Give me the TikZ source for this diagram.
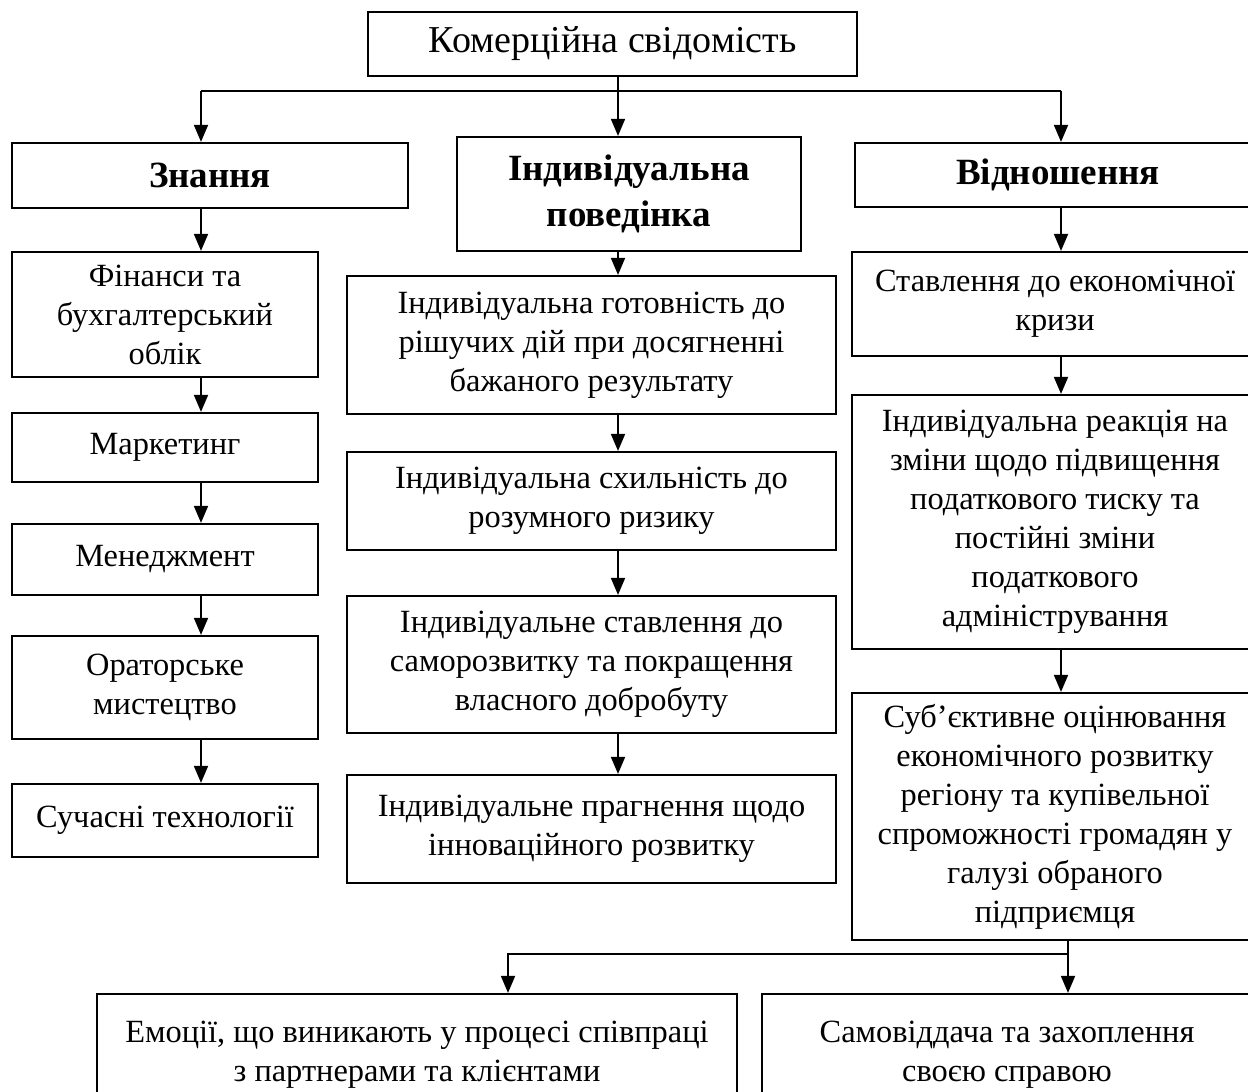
\documentclass[tikz,border=0pt]{standalone}
\usepackage{fontspec}
\setmainfont{Liberation Serif}
\usetikzlibrary{arrows.meta}
\begin{document}
\begin{tikzpicture}[x=1pt,y=-1pt,
  box/.style={draw, line width=2.2pt, align=center, inner sep=0pt, font=\fontsize{32.4}{39}\selectfont},
  head/.style={box, font=\fontsize{37}{46}\selectfont\bfseries},
  titlebox/.style={box, font=\fontsize{38}{44}\selectfont},
  ln/.style={line width=1.8pt},
  arr/.style={line width=1.8pt, -{Triangle[length=17pt,width=14pt]}}]
\useasboundingbox (0,0) rectangle (1248,1092);
\clip (0,0) rectangle (1248,1092);
% top
\node[titlebox, minimum width=489pt, minimum height=64pt] (top) at (612.5,44) {Комерційна свідомість};
% headers
\node[head, minimum width=396pt, minimum height=65pt] (znan) at (210,175.5) {Знання};
\node[head, minimum width=344pt, minimum height=114pt] (indiv) at (629,194) {Індивідуальна\\поведінка};
\node[head, minimum width=406pt, minimum height=64pt] (vidn) at (1058,175) {Відношення};
% left column
\node[box, minimum width=306pt, minimum height=125pt] (fin) at (165,314.5) {Фінанси та\\бухгалтерський\\облік};
\node[box, minimum width=306pt, minimum height=69pt] (mark) at (165,447.5) {Маркетинг};
\node[box, minimum width=306pt, minimum height=71pt] (men) at (165,559.5) {Менеджмент};
\node[box, minimum width=306pt, minimum height=103pt] (orat) at (165,687.5) {Ораторське\\мистецтво};
\node[box, minimum width=306pt, minimum height=73pt] (such) at (165,820.5) {Сучасні технології};
% middle column
\node[box, minimum width=489pt, minimum height=138pt] (gotov) at (591.5,345) {Індивідуальна готовність до\\рішучих дій при досягненні\\бажаного результату};
\node[box, minimum width=489pt, minimum height=98pt] (skhyl) at (591.5,501) {Індивідуальна схильність до\\розумного ризику};
\node[box, minimum width=489pt, minimum height=137pt] (samo) at (591.5,664.5) {Індивідуальне ставлення до\\саморозвитку та покращення\\власного добробуту};
\node[box, minimum width=489pt, minimum height=108pt] (pragn) at (591.5,829) {Індивідуальне прагнення щодо\\інноваційного розвитку};
% right column
\node[box, minimum width=406pt, minimum height=104pt] (kryz) at (1055,304) {Ставлення до економічної\\кризи};
\node[box, minimum width=406pt, minimum height=254pt] (reak) at (1055,522) {Індивідуальна реакція на\\зміни щодо підвищення\\податкового тиску та\\постійні зміни\\податкового\\адміністрування};
\node[box, minimum width=406pt, minimum height=247pt] (subj) at (1055,816.5) {Суб’єктивне оцінювання\\економічного розвитку\\регіону та купівельної\\спроможності громадян у\\галузі обраного\\підприємця};
% bottom
\node[box, minimum width=640pt, minimum height=122pt] (emoc) at (417,1055) {Емоції, що виникають у процесі співпраці\\з партнерами та клієнтами};
\node[box, minimum width=490pt, minimum height=122pt] (samov) at (1007,1055) {Самовіддача та захоплення\\своєю справою};
% guide coordinates
\coordinate (xL) at (201,0);
\coordinate (xM) at (618,0);
\coordinate (xR) at (1061,0);
\coordinate (hy) at (0,91);
\coordinate (xB1) at (508,0);
\coordinate (xB2) at (1068,0);
\coordinate (by) at (0,954);
% connectors top
\draw[arr] (top.south -| xM) -- (indiv.north -| xM);
\draw[ln] (hy -| xL) -- (hy -| xR);
\draw[arr] (hy -| xL) -- (znan.north -| xL);
\draw[arr] (hy -| xR) -- (vidn.north -| xR);
% left chain
\draw[arr] (znan.south -| xL) -- (fin.north -| xL);
\draw[arr] (fin.south -| xL) -- (mark.north -| xL);
\draw[arr] (mark.south -| xL) -- (men.north -| xL);
\draw[arr] (men.south -| xL) -- (orat.north -| xL);
\draw[arr] (orat.south -| xL) -- (such.north -| xL);
% middle chain
\draw[arr] (indiv.south -| xM) -- (gotov.north -| xM);
\draw[arr] (gotov.south -| xM) -- (skhyl.north -| xM);
\draw[arr] (skhyl.south -| xM) -- (samo.north -| xM);
\draw[arr] (samo.south -| xM) -- (pragn.north -| xM);
% right chain
\draw[arr] (vidn.south -| xR) -- (kryz.north -| xR);
\draw[arr] (kryz.south -| xR) -- (reak.north -| xR);
\draw[arr] (reak.south -| xR) -- (subj.north -| xR);
% bottom branch
\draw[arr] (subj.south -| xB2) -- (samov.north -| xB2);
\draw[arr] (by -| xB2) -| (emoc.north -| xB1);
\end{tikzpicture}
\end{document}
